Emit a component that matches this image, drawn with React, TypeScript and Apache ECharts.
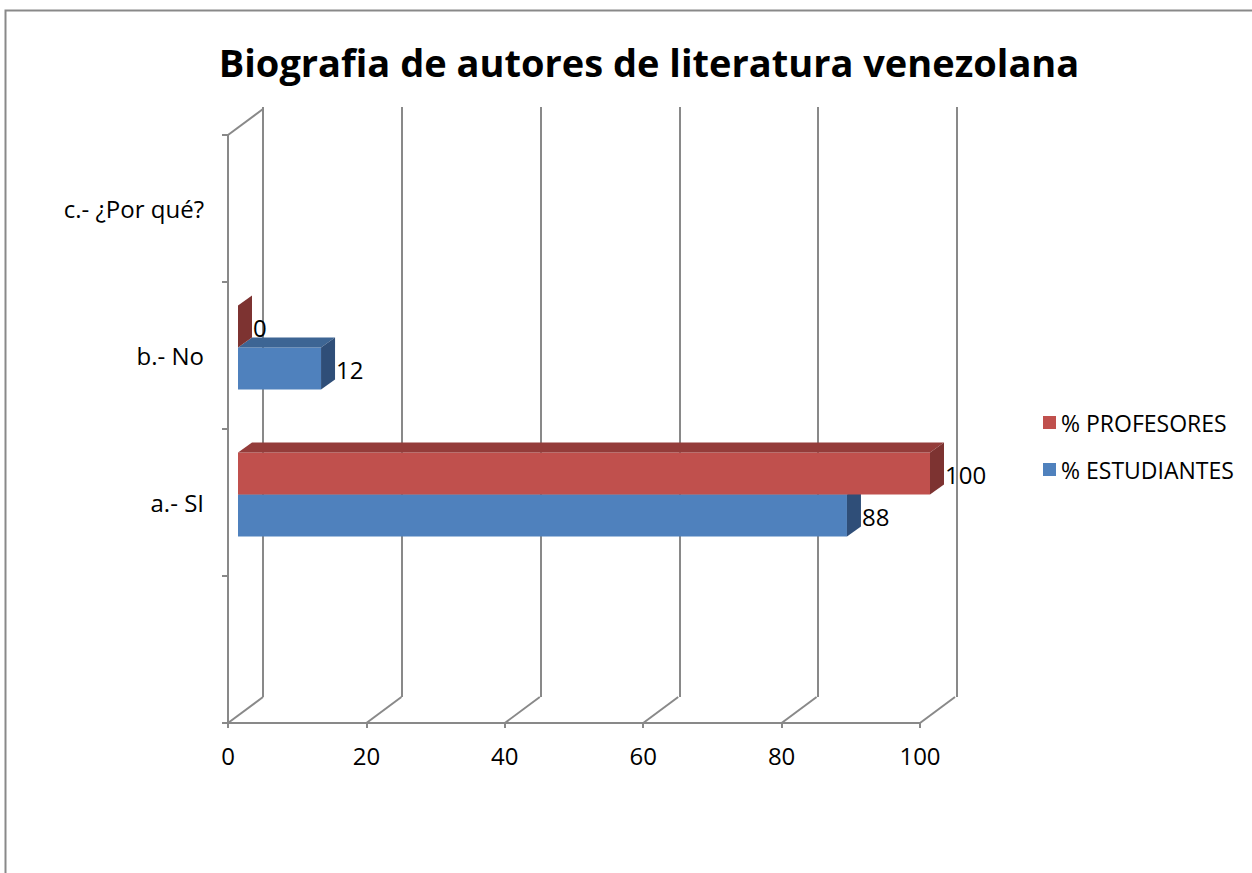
import React, { useEffect, useRef } from "react";
import * as echarts from "echarts";

const TITLE = "Biografia de autores de literatura venezolana";
const CATEGORIES = ["", "a.- SI", "b.- No", "c.- ¿Por qué?"];
const PROFESORES: (number | null)[] = [null, 100, 0, null];
const ESTUDIANTES: (number | null)[] = [null, 88, 12, null];
const X_TICKS = [0, 20, 40, 60, 80, 100];

const FONT = "'Open Sans', 'Noto Sans', sans-serif";
const GRAY = "#898989";
const RED = { front: "#C0504D", top: "#943C3A", side: "#7D3331" };
const BLUE = { front: "#4F81BD", top: "#3D6594", side: "#2F4E78" };

// 3D geometry (pixels)
const WALL_DX = 35;
const WALL_DY = -26;
const BAR_DX = 10;
const BAR_DY = -8;
const DEPTH_DX = 14;
const DEPTH_DY = -10;
const BAR_FRAC = 0.286;

function makeBarRender(colors: { front: string; top: string; side: string }, upper: boolean) {
  return (params: any, api: any) => {
    const v = api.value(0);
    const ci = api.value(1);
    const p0 = api.coord([0, ci]);
    const p1 = api.coord([v, ci]);
    const band = api.size([0, 1])[1];
    const h = band * BAR_FRAC;
    const yTop = p0[1] + BAR_DY + (upper ? -h : 0);
    const x0 = p0[0] + BAR_DX;
    const x1 = p1[0] + BAR_DX;
    return {
      type: "group",
      children: [
        {
          type: "rect",
          shape: { x: x0, y: yTop, width: Math.max(0, x1 - x0), height: h },
          style: { fill: colors.front },
        },
        {
          type: "polygon",
          shape: {
            points: [
              [x0, yTop],
              [x0 + DEPTH_DX, yTop + DEPTH_DY],
              [x1 + DEPTH_DX, yTop + DEPTH_DY],
              [x1, yTop],
            ],
          },
          style: { fill: colors.top },
        },
        {
          type: "polygon",
          shape: {
            points: [
              [x1, yTop],
              [x1 + DEPTH_DX, yTop + DEPTH_DY],
              [x1 + DEPTH_DX, yTop + h + DEPTH_DY],
              [x1, yTop + h],
            ],
          },
          style: { fill: colors.side },
        },
        {
          type: "text",
          x: x1 + DEPTH_DX + 1,
          y: yTop + h / 2 + 1,
          style: {
            text: String(v),
            fill: "#000",
            font: `24px ${FONT}`,
            textAlign: "left",
            textVerticalAlign: "middle",
          },
        },
      ],
    };
  };
}

function toData(arr: (number | null)[]) {
  const out: number[][] = [];
  arr.forEach((v, i) => {
    if (v !== null) out.push([v, i]);
  });
  return out;
}

export default function App() {
  const ref = useRef<HTMLDivElement>(null);
  useEffect(() => {
    if (!ref.current) return;
    const chart = echarts.init(ref.current, null, { renderer: "svg" });
    const option: any = {
      animation: false,
      backgroundColor: "#fff",
      textStyle: { fontFamily: FONT },
      graphic: [
        {
          type: "rect",
          shape: { x: 5.5, y: 10.5, width: 1300, height: 900 },
          style: { fill: "none", stroke: GRAY, lineWidth: 2 },
          silent: true,
        },
        {
          type: "text",
          x: 649,
          y: 62,
          style: {
            text: TITLE,
            fill: "#000",
            font: `bold 38px ${FONT}`,
            textAlign: "center",
            textVerticalAlign: "middle",
          },
        },
      ],
      legend: {
        orient: "vertical",
        left: 1038,
        top: 406,
        itemWidth: 13,
        itemHeight: 13,
        itemGap: 24,
        icon: "rect",
        data: ["% PROFESORES", "% ESTUDIANTES"],
        textStyle: { fontSize: 23, color: "#000", fontFamily: FONT },
      },
      grid: [
        { left: 228, top: 135, width: 692, height: 588 },
        { left: 263, top: 107, width: 694, height: 590 },
      ],
      xAxis: [
        {
          type: "value",
          gridIndex: 0,
          min: 0,
          max: 100,
          interval: 20,
          axisLine: { show: true, lineStyle: { color: GRAY, width: 2 } },
          axisTick: { show: true, length: 5, lineStyle: { color: GRAY, width: 2 } },
          splitLine: { show: false },
          axisLabel: { fontSize: 24, color: "#000", margin: 20, fontFamily: FONT },
        },
        {
          type: "value",
          gridIndex: 1,
          min: 0,
          max: 100,
          interval: 20,
          axisLine: { show: false },
          axisTick: { show: false },
          axisLabel: { show: false },
          splitLine: { show: true, lineStyle: { color: GRAY, width: 2 } },
        },
      ],
      yAxis: [
        {
          type: "category",
          gridIndex: 0,
          data: CATEGORIES,
          boundaryGap: true,
          axisLine: { show: true, lineStyle: { color: GRAY, width: 2 } },
          axisTick: { show: true, length: 6, lineStyle: { color: GRAY, width: 2 } },
          axisLabel: { fontSize: 24, color: "#000", margin: 24, fontFamily: FONT },
          splitLine: { show: false },
        },
        {
          type: "category",
          gridIndex: 1,
          data: CATEGORIES,
          show: false,
        },
      ],
      series: [
        {
          name: "floor",
          type: "custom",
          xAxisIndex: 0,
          yAxisIndex: 0,
          silent: true,
          data: X_TICKS.map((t) => [t, 0]),
          renderItem: (params: any, api: any) => {
            const p = api.coord([api.value(0), 0]);
            const band = api.size([0, 1])[1];
            const y = p[1] + band / 2;
            return {
              type: "line",
              shape: { x1: p[0], y1: y, x2: p[0] + WALL_DX, y2: y + WALL_DY },
              style: { stroke: GRAY, lineWidth: 2 },
            };
          },
        },
        {
          name: "wall",
          type: "custom",
          xAxisIndex: 0,
          yAxisIndex: 0,
          silent: true,
          data: [[0, CATEGORIES.length - 1]],
          renderItem: (params: any, api: any) => {
            const p = api.coord([0, api.value(1)]);
            const band = api.size([0, 1])[1];
            const y = p[1] - band / 2;
            return {
              type: "line",
              shape: { x1: p[0], y1: y, x2: p[0] + WALL_DX, y2: y + WALL_DY },
              style: { stroke: GRAY, lineWidth: 2 },
            };
          },
        },
        {
          name: "% ESTUDIANTES",
          type: "custom",
          xAxisIndex: 0,
          yAxisIndex: 0,
          itemStyle: { color: BLUE.front },
          data: toData(ESTUDIANTES),
          renderItem: makeBarRender(BLUE, false),
        },
        {
          name: "% PROFESORES",
          type: "custom",
          xAxisIndex: 0,
          yAxisIndex: 0,
          itemStyle: { color: RED.front },
          data: toData(PROFESORES),
          renderItem: makeBarRender(RED, true),
        },
      ],
    };
    chart.setOption(option);
    return () => chart.dispose();
  }, []);
  return (
    <div
      ref={ref}
      style={{ position: "fixed", left: 0, top: 0, width: 1252, height: 873, background: "#fff" }}
    />
  );
}
